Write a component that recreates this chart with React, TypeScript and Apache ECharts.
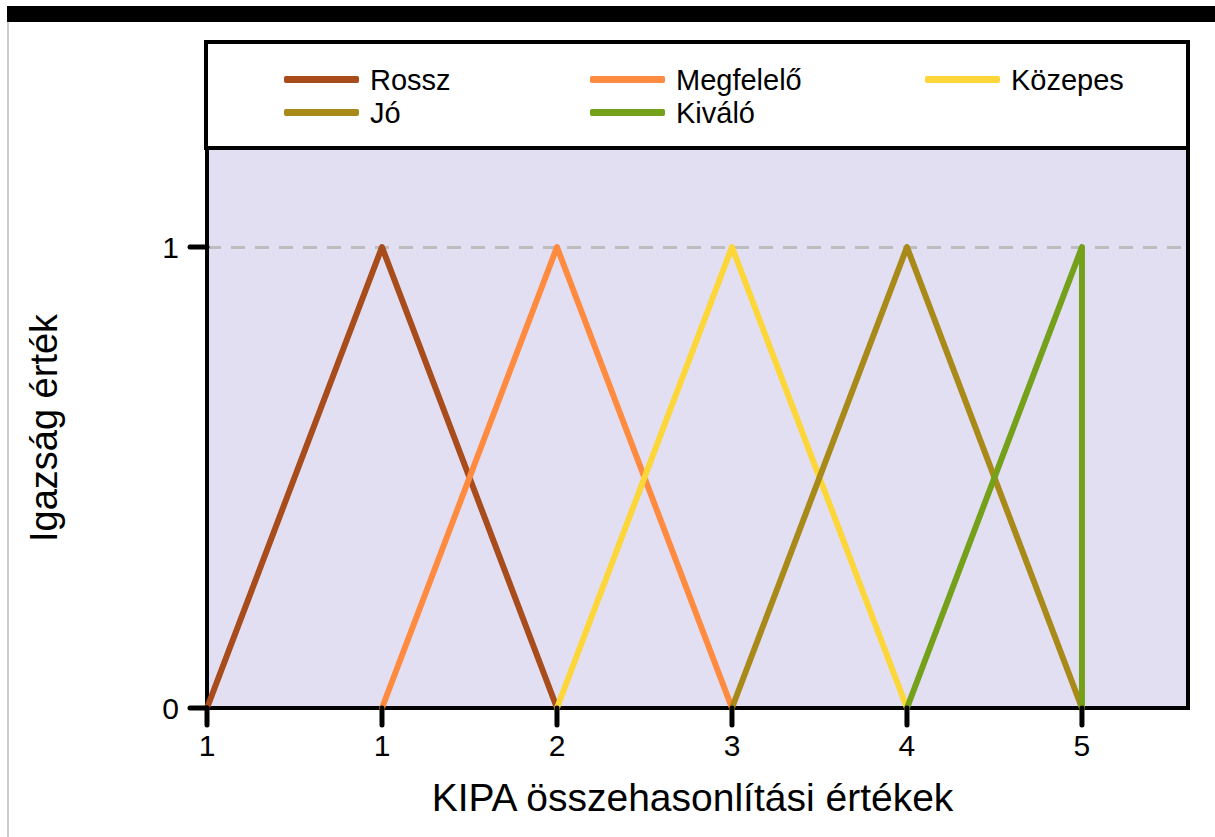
import React, { useEffect, useRef } from "react";
import * as echarts from "echarts";

const seriesNames = ["Rossz", "Megfelelő", "Közepes", "Jó", "Kiváló"];
const seriesColors = ["#a84c1c", "#ff8b40", "#fdd63a", "#a98a19", "#75a01a"];
const rosszData = [[0, 0], [1, 1], [2, 0]];
const megfeleloData = [[1, 0], [2, 1], [3, 0]];
const kozepesData = [[2, 0], [3, 1], [4, 0]];
const joData = [[3, 0], [4, 1], [5, 0]];
const kivaloData = [[4, 0], [5, 1], [5, 0]];
const xTickValues = [0, 1, 2, 3, 4, 5];
const xTickLabels = ["1", "1", "2", "3", "4", "5"];
const yTickValues = [0, 1];
const yTickLabels = ["0", "1"];
const xMax = 5.606;
const yMax = 1.215;

const FONT = "'Liberation Sans', Arial, Helvetica, sans-serif";

export default function App() {
  const ref = useRef<HTMLDivElement>(null);
  useEffect(() => {
    if (!ref.current) return;
    const chart = echarts.init(ref.current, null, { renderer: "svg" });
    const allData = [rosszData, megfeleloData, kozepesData, joData, kivaloData];
    const legendPos = [
      { left: 284, top: 65 },
      { left: 590, top: 65 },
      { left: 925, top: 65 },
      { left: 284, top: 98 },
      { left: 590, top: 98 },
    ];
    const tickData: any[] = [
      ...xTickValues.map((v) => [v, 0, 0]),
      ...yTickValues.map((v) => [0, v, 1]),
    ];
    const option: any = {
      animation: false,
      backgroundColor: "#ffffff",
      textStyle: { fontFamily: FONT },
      graphic: [
        { type: "rect", z: 0, shape: { x: 7, y: 6, width: 1208, height: 16 }, style: { fill: "#000" } },
        { type: "line", z: 0, shape: { x1: 8, y1: 22, x2: 8, y2: 837 }, style: { stroke: "#cccccc", lineWidth: 2 } },
        {
          type: "rect", z: 0,
          shape: { x: 206, y: 42, width: 982, height: 106 },
          style: { fill: "#ffffff", stroke: "#000", lineWidth: 4 },
        },
      ],
      legend: seriesNames.map((n, i) => ({
        data: [n],
        left: legendPos[i].left,
        top: legendPos[i].top,
        padding: 0,
        z: 10,
        icon: "roundRect",
        itemWidth: 75,
        itemHeight: 7,
        itemGap: 14,
        selectedMode: false,
        textStyle: { fontSize: 29, color: "#000", fontFamily: FONT, padding: [0, 0, 0, 6] },
      })),
      grid: {
        left: 207,
        right: 27,
        top: 148,
        bottom: 129,
        show: true,
        backgroundColor: "#e2dff3",
        borderColor: "#000",
        borderWidth: 4,
        outerBoundsMode: "none",
      },
      xAxis: {
        type: "value",
        min: 0,
        max: xMax,
        name: "KIPA összehasonlítási értékek",
        nameLocation: "middle",
        nameGap: 70,
        nameTextStyle: { fontSize: 39, color: "#000", fontFamily: FONT, padding: [0, 10, 0, 0] },
        axisLine: { show: true, onZero: false, lineStyle: { color: "#000", width: 4 } },
        axisTick: { show: false },
        axisLabel: {
          fontSize: 30, color: "#000", margin: 22, fontFamily: FONT,
          customValues: xTickValues,
          formatter: (v: number) => xTickLabels[xTickValues.indexOf(Math.round(v))] ?? "",
        },
        splitLine: { show: false },
      },
      yAxis: {
        type: "value",
        min: 0,
        max: yMax,
        name: "Igazság érték",
        nameLocation: "middle",
        nameGap: 144,
        nameTextStyle: { fontSize: 38, color: "#000", fontFamily: FONT },
        axisLine: { show: true, onZero: false, lineStyle: { color: "#000", width: 4 } },
        axisTick: { show: false },
        axisLabel: {
          fontSize: 30, color: "#000", margin: 28, fontFamily: FONT,
          customValues: yTickValues,
          formatter: (v: number) => yTickLabels[yTickValues.indexOf(Math.round(v))] ?? "",
        },
        splitLine: { show: false },
      },
      series: [
        ...seriesNames.map((n, i) => ({
          name: n,
          type: "line",
          data: allData[i],
          showSymbol: false,
          symbol: "none",
          color: seriesColors[i],
          lineStyle: { width: 6, color: seriesColors[i], cap: "round", join: "round" },
          z: 3,
          markLine:
            i === 0
              ? {
                  silent: true,
                  symbol: "none",
                  label: { show: false },
                  z: 1,
                  lineStyle: { color: "#bdbdbd", width: 3, type: [14, 10] },
                  data: [{ yAxis: 1 }],
                }
              : undefined,
        })),
        {
          name: "ticks",
          type: "custom",
          clip: false,
          silent: true,
          z: 5,
          data: tickData,
          renderItem: (params: any, api: any) => {
            const p = api.coord([api.value(0), api.value(1)]);
            const isY = api.value(2) === 1;
            const len = 17;
            const shape = isY
              ? { x1: p[0] - len, y1: p[1], x2: p[0], y2: p[1] }
              : { x1: p[0], y1: p[1], x2: p[0], y2: p[1] + len };
            return {
              type: "line",
              shape,
              style: { stroke: "#000", lineWidth: 5, lineCap: "round" },
            };
          },
        },
      ],
    };
    chart.setOption(option);
    return () => chart.dispose();
  }, []);
  return (
    <div
      ref={ref}
      style={{ position: "absolute", left: 0, top: 0, width: 1215, height: 837 }}
    />
  );
}
